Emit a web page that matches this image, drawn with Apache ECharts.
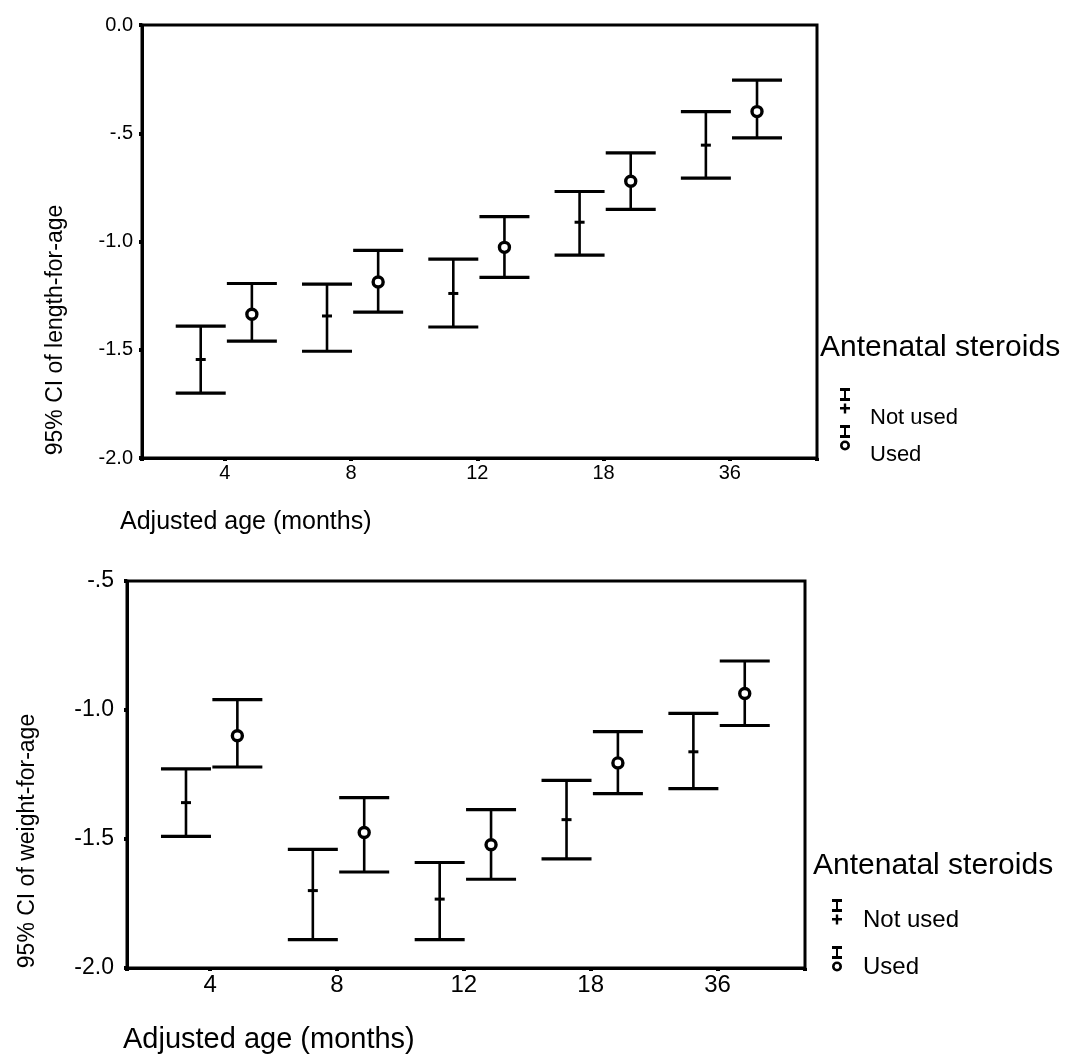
<!DOCTYPE html>
<html><head><meta charset="utf-8">
<script src="https://cdn.jsdelivr.net/npm/echarts@6/dist/echarts.min.js"></script>
<style>html,body{margin:0;padding:0;background:#fff}#c{width:1069px;height:1057px}</style>
</head><body><div id="c"></div>
<script>
// ---- Data ----
const ages = ['4', '8', '12', '18', '36'];
const seriesNames = ['Not used', 'Used'];
// Top panel: 95% CI of length-for-age
const lenNotMean  = [-1.545, -1.344, -1.240, -0.911, -0.555];
const lenNotLow   = [-1.700, -1.507, -1.395, -1.063, -0.707];
const lenNotHigh  = [-1.391, -1.197, -1.081, -0.769, -0.400];
const lenUsedMean = [-1.336, -1.187, -1.027, -0.722, -0.400];
const lenUsedLow  = [-1.460, -1.326, -1.166, -0.852, -0.521];
const lenUsedHigh = [-1.194, -1.041, -0.885, -0.591, -0.255];
// Bottom panel: 95% CI of weight-for-age
const wtNotMean  = [-1.359, -1.700, -1.733, -1.425, -1.162];
const wtNotLow   = [-1.490, -1.890, -1.890, -1.577, -1.305];
const wtNotHigh  = [-1.228, -1.540, -1.591, -1.273, -1.013];
const wtUsedMean = [-1.100, -1.475, -1.522, -1.205, -0.936];
const wtUsedLow  = [-1.221, -1.628, -1.656, -1.324, -1.060];
const wtUsedHigh = [-0.960, -1.340, -1.386, -1.084, -0.810];
const yTicksTop = [0, -0.5, -1, -1.5, -2];
const yTicksBottom = [-0.5, -1, -1.5, -2];

// ---- Helpers ----
const FONT = '"Liberation Sans", Arial, sans-serif';
const OFF_NOT = -0.19, OFF_USED = 0.215;
const CAP = 25;

function build(mean, low, high) { return mean.map((m, i) => [i + 1, low[i], high[i], m]); }

function errRender(offset, marker) {
  return function (params, api) {
    const x = api.value(0) + offset;
    const pl = api.coord([x, api.value(1)]);
    const ph = api.coord([x, api.value(2)]);
    const pm = api.coord([x, api.value(3)]);
    const st = { stroke: '#000', lineWidth: 3.2, fill: null };
    const ch = [
      { type: 'line', shape: { x1: ph[0] - CAP, y1: ph[1], x2: ph[0] + CAP, y2: ph[1] }, style: st },
      { type: 'line', shape: { x1: pl[0] - CAP, y1: pl[1], x2: pl[0] + CAP, y2: pl[1] }, style: st },
      { type: 'line', shape: { x1: ph[0], y1: ph[1], x2: pl[0], y2: pl[1] }, style: { stroke: '#000', lineWidth: 2.6 } }
    ];
    if (marker === 'plus') {
      ch.push({ type: 'line', shape: { x1: pm[0] - 5, y1: pm[1], x2: pm[0] + 5, y2: pm[1] }, style: { stroke: '#000', lineWidth: 3 } });
    } else {
      ch.push({ type: 'circle', shape: { cx: pm[0], cy: pm[1], r: 5 }, style: { fill: '#fff', stroke: '#000', lineWidth: 3.4 } });
    }
    return { type: 'group', children: ch };
  };
}

function ylab(v) {
  if (Math.abs(v) < 1e-9) return '0.0';
  if (Math.abs(v + 0.5) < 1e-9) return '-.5';
  return v.toFixed(1);
}
function xlab(v) {
  const k = Math.round(v);
  if (Math.abs(v - k) < 1e-6 && k >= 1 && k <= ages.length) return ages[k - 1];
  return '';
}

// legend icon path: I-bar on top, marker below, plus a dummy point to push the visible icon upward
function iconPath(marker, H) {
  let p = 'M1,0 H11 V3 H1 Z M5,3 H7 V10 H5 Z M1,10 H11 V13 H1 Z ';
  if (marker === 'plus') {
    p += 'M1,19 H11 V21.5 H1 Z M4.8,15.5 H7.2 V25.5 H4.8 Z ';
  } else {
    p += 'M1,20.5 A5,5 0 1,1 11,20.5 A5,5 0 1,1 1,20.5 Z M3.6,20.5 A2.4,2.4 0 1,0 8.4,20.5 A2.4,2.4 0 1,0 3.6,20.5 Z ';
  }
  p += 'M0,' + H + ' L0.01,' + H + ' L0,' + (H - 0.01) + ' Z M12,0 L11.99,0 L12,0.01 Z';
  return 'path://' + p;
}

function legendItem(name, marker, left, centerY, H, fontSize, padLeft) {
  return {
    data: [{ name: name, icon: iconPath(marker, H) }],
    orient: 'vertical', left: left, top: centerY - H / 2,
    itemWidth: 12, itemHeight: H, selectedMode: false,
    itemStyle: { color: '#000' },
    textStyle: { fontFamily: FONT, fontSize: fontSize, color: '#000', padding: [0, 0, 0, padLeft] }
  };
}

function axisCommon(fs, margin) {
  return {
    axisLine: { show: true, onZero: false, lineStyle: { color: '#000', width: 3 } },
    axisTick: { show: true, length: 3, lineStyle: { color: '#000', width: 4 } },
    splitLine: { show: false },
    axisLabel: { color: '#000', fontFamily: FONT, fontSize: fs, margin: margin }
  };
}

const grids = [
  { left: 142, top: 25, width: 675, height: 433, show: true, borderColor: '#000', borderWidth: 3 },
  { left: 127, top: 581, width: 678, height: 387, show: true, borderColor: '#000', borderWidth: 3 }
];

const xAxes = [0, 1].map(g => {
  const c = axisCommon(g === 0 ? 20 : 24, g === 0 ? 5 : 5);
  c.axisLabel.formatter = xlab;
  return Object.assign({ gridIndex: g, type: 'value', min: 0.345, max: 5.69, splitNumber: 5 }, c);
});
const yAxes = [
  Object.assign({ gridIndex: 0, type: 'value', min: yTicksTop[yTicksTop.length - 1], max: yTicksTop[0], interval: 0.5 }, axisCommon(20, 9)),
  Object.assign({ gridIndex: 1, type: 'value', min: yTicksBottom[yTicksBottom.length - 1], max: yTicksBottom[0], interval: 0.5 }, axisCommon(23, 13))
];
yAxes.forEach(a => { a.axisLabel.formatter = ylab; });

const series = [
  { name: seriesNames[0], type: 'custom', xAxisIndex: 0, yAxisIndex: 0, itemStyle: { color: '#000' },
    renderItem: errRender(OFF_NOT, 'plus'), data: build(lenNotMean, lenNotLow, lenNotHigh), encode: { x: 0, y: [1, 2, 3] } },
  { name: seriesNames[1], type: 'custom', xAxisIndex: 0, yAxisIndex: 0, itemStyle: { color: '#000' },
    renderItem: errRender(OFF_USED, 'circle'), data: build(lenUsedMean, lenUsedLow, lenUsedHigh), encode: { x: 0, y: [1, 2, 3] } },
  { name: seriesNames[0], type: 'custom', xAxisIndex: 1, yAxisIndex: 1, itemStyle: { color: '#000' },
    renderItem: errRender(OFF_NOT, 'plus'), data: build(wtNotMean, wtNotLow, wtNotHigh), encode: { x: 0, y: [1, 2, 3] } },
  { name: seriesNames[1], type: 'custom', xAxisIndex: 1, yAxisIndex: 1, itemStyle: { color: '#000' },
    renderItem: errRender(OFF_USED, 'circle'), data: build(wtUsedMean, wtUsedLow, wtUsedHigh), encode: { x: 0, y: [1, 2, 3] } }
];

const option = {
  backgroundColor: '#fff',
  animation: false,
  grid: grids,
  xAxis: xAxes,
  yAxis: yAxes,
  series: series,
  title: [
    { text: 'Antenatal steroids', left: 820, top: 333, padding: 0, textStyle: { fontFamily: FONT, fontSize: 30, fontWeight: 'normal', color: '#000' } },
    { text: 'Antenatal steroids', left: 813, top: 851, padding: 0, textStyle: { fontFamily: FONT, fontSize: 30, fontWeight: 'normal', color: '#000' } }
  ],
  legend: [
    legendItem('Not used', 'plus', 834, 413, 60, 22, 14),
    legendItem('Used', 'circle', 834, 450, 60, 22, 14),
    legendItem('Not used', 'plus', 826, 915, 42, 24, 15),
    legendItem('Used', 'circle', 826, 962, 42, 24, 15)
  ],
  graphic: [
    { type: 'text', x: 56, y: 330, rotation: Math.PI / 2,
      style: { text: '95% CI of length-for-age', font: '23px ' + FONT, fill: '#000', align: 'center', verticalAlign: 'middle' } },
    { type: 'text', x: 28, y: 841, rotation: Math.PI / 2,
      style: { text: '95% CI of weight-for-age', font: '23px ' + FONT, fill: '#000', align: 'center', verticalAlign: 'middle' } },
    { type: 'text', x: 120, y: 522,
      style: { text: 'Adjusted age (months)', font: '25px ' + FONT, fill: '#000', align: 'left', verticalAlign: 'middle' } },
    { type: 'text', x: 123, y: 1040,
      style: { text: 'Adjusted age (months)', font: '29px ' + FONT, fill: '#000', align: 'left', verticalAlign: 'middle' } }
  ]
};

const chart = echarts.init(document.getElementById('c'), null, { renderer: 'canvas' });
chart.setOption(option);
</script>
</body></html>
